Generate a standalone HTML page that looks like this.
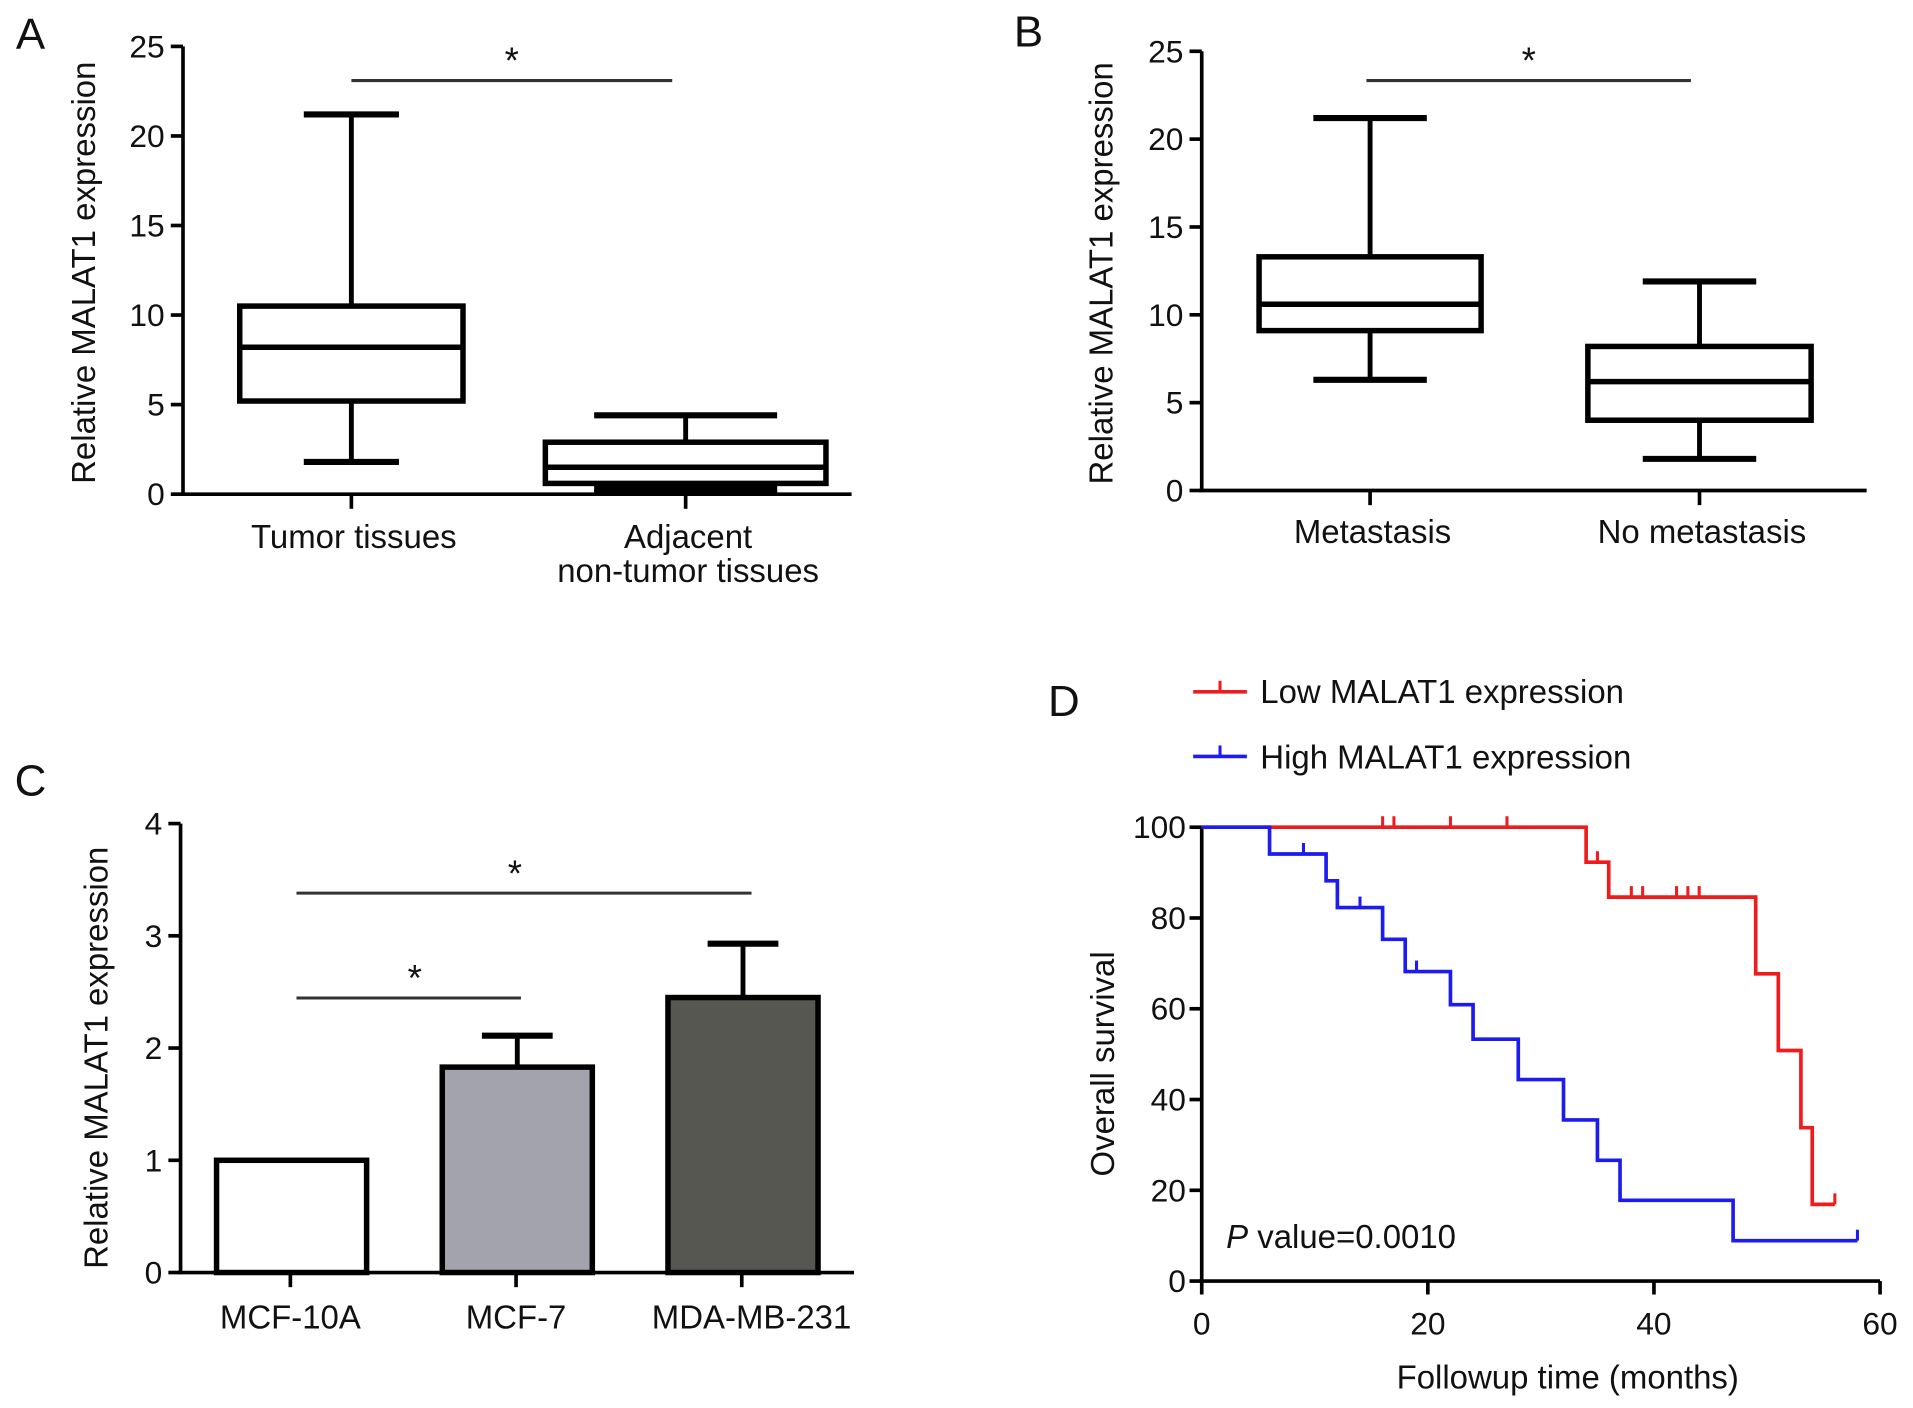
<!DOCTYPE html>
<html><head><meta charset="utf-8"><style>
html,body{margin:0;padding:0;background:#fff}
svg{display:block;font-family:"Liberation Sans",Arial,sans-serif}
</style></head><body>
<svg id="fig" width="1913" height="1408" viewBox="0 0 1568 1154" xmlns="http://www.w3.org/2000/svg">
<g id="A"></g>
<g id="B"></g>
<g id="C"></g>
<g id="D"></g>
</svg>
<script>
// Panel A data
const aCats = ["Tumor tissues", "Adjacent|non-tumor tissues"];
const aMin = [1.8, 0.1], aQ1 = [5.2, 0.6], aMed = [8.2, 1.5], aQ3 = [10.5, 2.9], aMax = [21.2, 4.4];
// Panel B data
const bCats = ["Metastasis", "No metastasis"];
const bMin = [6.3, 1.8], bQ1 = [9.1, 4.0], bMed = [10.6, 6.2], bQ3 = [13.3, 8.2], bMax = [21.2, 11.9];
const boxTicks = [0, 5, 10, 15, 20, 25];
// Panel C data
const cCats = ["MCF-10A", "MCF-7", "MDA-MB-231"];
const cVals = [1.0, 1.83, 2.45];
const cErr = [0, 0.28, 0.48];
const cTicks = [0, 1, 2, 3, 4];
// Panel D data
const redT = [0, 34, 36, 49, 51, 53, 54, 56];
const redS = [100, 92.3, 84.6, 67.7, 50.8, 33.8, 16.9, 16.9];
const redCens = [16, 17, 22, 27, 35, 38, 39, 42, 43, 44, 56];
const blueT = [0, 6, 11, 12, 16, 18, 22, 24, 28, 32, 35, 37, 47, 58];
const blueS = [100, 94.1, 88.2, 82.3, 75.3, 68.2, 60.9, 53.3, 44.4, 35.5, 26.6, 17.8, 8.9, 8.9];
const blueCens = [9, 14, 19, 58];
const dXTicks = [0, 20, 40, 60];
const dYTicks = [0, 20, 40, 60, 80, 100];

const NS = "http://www.w3.org/2000/svg";
const FL = 27, FT = 26;
function mk(parent, tag, attrs, text) {
  const e = document.createElementNS(NS, tag);
  for (const k in attrs) e.setAttribute(k, attrs[k]);
  if (text !== undefined) e.textContent = text;
  parent.appendChild(e);
  return e;
}
function ln(p, x1, y1, x2, y2, sw, col, name) {
  const e = mk(p, "line", {x1, y1, x2, y2, stroke: col || "#000", "stroke-width": sw});
  
  
  return e;
}
function tx(p, x, y, s, size, anchor, name, extra) {
  const e = mk(p, "text", Object.assign({x, y, "font-size": size, "text-anchor": anchor || "middle", fill: "#111"}, extra || {}), s);
  
  
  return e;
}

function boxPanel(g, letter, lx, ly, ax, y0, yTop, xEnd, catX, cats, mn, q1, md, q3, mx, boxW, capW, sig, ylabX, labY) {
  const ys = v => y0 + (yTop - y0) * v / 25;
  tx(g, lx, ly, letter, 36, "middle", "panel-letter");
  ln(g, ax, y0, ax, yTop, 3, "#000", "y-axis-line");
  ln(g, ax - 2, y0, xEnd, y0, 3, "#000", "x-axis-line");
  boxTicks.forEach(t => {
    ln(g, ax - 10, ys(t), ax, ys(t), 3, "#000", "y-tick");
    tx(g, ax - 15, ys(t) + 9, String(t), FT, "end", "y-tick-label");
  });
  tx(g, ylabX, (y0 + yTop) / 2 + 2, "Relative MALAT1 expression", FL, "middle", "y-axis-title", {transform: `rotate(-90 ${ylabX} ${(y0 + yTop) / 2 + 2})`});
  cats.forEach((c, i) => {
    const cx = catX[i];
    ln(g, cx, y0, cx, y0 + 12, 3, "#000", "x-tick");
    c.split("|").forEach((part, j) => tx(g, cx + 2, labY + j * 28, part, FL, "middle", "x-tick-label"));
    ln(g, cx, ys(mx[i]), cx, ys(q3[i]), 4, "#000", "whisker-upper");
    ln(g, cx, ys(q1[i]), cx, ys(mn[i]), 4, "#000", "whisker-lower");
    ln(g, cx - capW[i] / 2, ys(mx[i]), cx + capW[i] / 2, ys(mx[i]), 5, "#000", "whisker-cap-max");
    ln(g, cx - capW[i] / 2, ys(mn[i]), cx + capW[i] / 2, ys(mn[i]), 5, "#000", "whisker-cap-min");
    if (ys(mn[i]) - ys(q1[i]) < 12) {
      const f = mk(g, "rect", {x: cx - capW[i] / 2, y: ys(q1[i]), width: capW[i], height: ys(mn[i]) - ys(q1[i]), fill: "#000"});
      
      
    }
    const r = mk(g, "rect", {x: cx - boxW[i] / 2, y: ys(q3[i]), width: boxW[i], height: ys(q1[i]) - ys(q3[i]), fill: "none", stroke: "#000", "stroke-width": 4.5});
    
    
    ln(g, cx - boxW[i] / 2, ys(md[i]), cx + boxW[i] / 2, ys(md[i]), 4.5, "#000", "median-line");
  });
  ln(g, sig[0], sig[2], sig[1], sig[2], 2.5, "#333", "significance-bar");
  tx(g, (sig[0] + sig[1]) / 2, sig[2] - 6, "*", 30, "middle", "significance-star");
}

boxPanel(document.getElementById("A"), "A", 25, 40, 150, 405, 38, 698, [288, 562], aCats, aMin, aQ1, aMed, aQ3, aMax, [183, 230], [78, 150], [288, 551, 66], 78, 449);
boxPanel(document.getElementById("B"), "B", 843, 38, 985, 402, 42, 1530, [1123, 1393], bCats, bMin, bQ1, bMed, bQ3, bMax, [182, 183], [93, 93], [1120, 1386, 66], 912, 445);

// Panel C
(function () {
  const g = document.getElementById("C");
  const ax = 148, y0 = 1043, yTop = 675, xEnd = 700;
  const ys = v => y0 + (yTop - y0) * v / 4;
  const catX = [238, 423, 608];
  const fills = ["#ffffff", "#a3a3ad", "#575752"];
  const bw = 123;
  tx(g, 25, 652, "C", 36, "middle", "panel-letter");
  ln(g, ax, y0, ax, yTop, 3, "#000", "y-axis-line");
  ln(g, ax - 2, y0, xEnd, y0, 3, "#000", "x-axis-line");
  cTicks.forEach(t => {
    ln(g, ax - 10, ys(t), ax, ys(t), 3, "#000", "y-tick");
    tx(g, ax - 15, ys(t) + 9, String(t), FT, "end", "y-tick-label");
  });
  tx(g, 88, 867, "Relative MALAT1 expression", FL, "middle", "y-axis-title", {transform: "rotate(-90 88 867)"});
  cCats.forEach((c, i) => {
    const cx = catX[i];
    if (cErr[i] > 0) {
      ln(g, cx + 1, ys(cVals[i]), cx + 1, ys(cVals[i] + cErr[i]), 4, "#000", "error-bar");
      ln(g, cx - 28, ys(cVals[i] + cErr[i]), cx + 30, ys(cVals[i] + cErr[i]), 5, "#000", "error-cap");
    }
    const r = mk(g, "rect", {x: cx + 1 - bw / 2, y: ys(cVals[i]), width: bw, height: y0 - ys(cVals[i]), fill: fills[i], stroke: "#000", "stroke-width": 4.5});
    
    
    ln(g, cx, y0, cx, y0 + 12, 3, "#000", "x-tick");
    tx(g, cx + (i === 2 ? 8 : 0), 1089, c, FL, "middle", "x-tick-label");
  });
  ln(g, 243, 732, 616, 732, 2.5, "#333", "significance-bar-mda");
  tx(g, 422, 726, "*", 30, "middle", "significance-star");
  ln(g, 243, 818, 427, 818, 2.5, "#333", "significance-bar-mcf7");
  tx(g, 340, 812, "*", 30, "middle", "significance-star");
})();

// Panel D
(function () {
  const g = document.getElementById("D");
  const ax = 985, y0 = 1050, yTop = 678, xR = 1541;
  const xs = t => ax + (xR - ax) * t / 60;
  const ys = v => y0 + (yTop - y0) * v / 100;
  tx(g, 872, 587, "D", 36, "middle", "panel-letter");
  ln(g, ax, y0 + 1, ax, yTop, 3, "#000", "y-axis-line");
  ln(g, ax - 2, y0, xR, y0, 3, "#000", "x-axis-line");
  dYTicks.forEach(t => {
    ln(g, ax - 10, ys(t), ax, ys(t), 3, "#000", "y-tick");
    tx(g, ax - 13, ys(t) + 9, String(t), FT, "end", "y-tick-label");
  });
  dXTicks.forEach(t => {
    ln(g, xs(t), y0, xs(t), y0 + 11, 3, "#000", "x-tick");
    tx(g, xs(t), 1094, String(t), FT, "middle", "x-tick-label");
  });
  tx(g, 913, 872, "Overall survival", FL, "middle", "y-axis-title", {transform: "rotate(-90 913 872)"});
  tx(g, 1285, 1138, "Followup time (months)", FL, "middle", "x-axis-title");
  function curve(T, S, C, col, name) {
    let d = `M${xs(T[0])},${ys(S[0])}`;
    for (let i = 1; i < T.length; i++) d += ` H${xs(T[i])} V${ys(S[i])}`;
    const p = mk(g, "path", {d, fill: "none", stroke: col, "stroke-width": 3});
    
    
    C.forEach(c => {
      let s = S[0];
      for (let i = 0; i < T.length; i++) if (T[i] <= c) s = S[i];
      ln(g, xs(c), ys(s), xs(c), ys(s) - 9, 2.5, col, "censor-mark");
    });
  }
  curve(redT, redS, redCens, "#ee1c1c", "low-expression-curve");
  curve(blueT, blueS, blueCens, "#1c1cee", "high-expression-curve");
  ln(g, 978, 567, 1022, 567, 3, "#ee1c1c", "legend-low-line");
  ln(g, 1000, 567, 1000, 558, 2.5, "#ee1c1c", "legend-low-tick");
  tx(g, 1033, 576, "Low MALAT1 expression", FL, "start", "legend-low-label");
  ln(g, 978, 620, 1022, 620, 3, "#1c1cee", "legend-high-line");
  ln(g, 1000, 620, 1000, 611, 2.5, "#1c1cee", "legend-high-tick");
  tx(g, 1033, 630, "High MALAT1 expression", FL, "start", "legend-high-label");
  const pt = tx(g, 1005, 1023, "", FL, "start", "p-value-label");
  mk(pt, "tspan", {"font-style": "italic"}, "P");
  mk(pt, "tspan", {}, " value=0.0010");
})();
</script>
</body></html>
